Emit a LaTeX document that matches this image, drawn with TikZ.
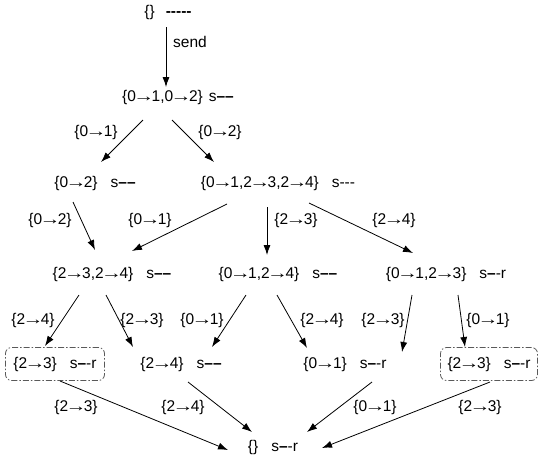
\documentclass[tikz,border=0pt]{standalone}
\usepackage{fontspec}
\setmainfont{Liberation Sans}
\usetikzlibrary{arrows.meta}
\newcommand\dd{\textbf{–}}
\newcommand\st[1]{\hspace{13pt}s#1}
\newcommand\ra{\kern-2.6pt\scalebox{1.35}[1]{→}\kern-2.6pt}
\begin{document}
\begin{tikzpicture}[x=1pt,y=-1pt,
  every node/.style={font=\fontsize{15.5}{18}\selectfont, inner sep=0pt},
  state/.style={},
  lbl/.style={},
  boxed/.style={draw=black!65, line width=0.8pt, rounded corners=6pt,
    dash pattern=on 6pt off 2pt on 1.5pt off 2pt, minimum height=33pt, inner xsep=6pt},
  arr/.style={-{Latex[length=10pt,width=7pt]}, line width=0.8pt}]
\useasboundingbox (0,0) rectangle (540,464);
% states
\node[state] (n0) at (168,12) {\{\}\hspace{11pt}\textbf{-{}-{}-{}-{}-}};
\node[state] (n1) at (178,97) {\{0\ra1,0\ra2\}\hspace{-7pt}\st{\dd\dd}};
\node[state] (n2) at (95,183) {\{0\ra2\}\st{\dd\dd}};
\node[state] (n3) at (278,183) {\{0\ra1,2\ra3,2\ra4\}\st{-{}-{}-}};
\node[state] (n6) at (112,274) {\{2\ra3,2\ra4\}\st{\dd\dd}};
\node[state] (n7) at (278,274) {\{0\ra1,2\ra4\}\st{\dd\dd}};
\node[state] (n8) at (446,274) {\{0\ra1,2\ra3\}\st{\dd-r}};
\node[state,boxed,minimum width=99pt] (n9) at (55,364) {\{2\ra3\}\st{\dd-r}};
\node[state] (n10) at (181,364) {\{2\ra4\}\st{\dd\dd}};
\node[state] (n12) at (345,364) {\{0\ra1\}\st{\dd-r}};
\node[state,boxed,minimum width=97pt] (n14) at (489,364) {\{2\ra3\}\st{\dd-r}};
\node[state] (n15) at (273,447) {\{\}\st{\dd-r}};
% connectors
\draw[arr] ([shift={(-2,15)}]n0.center) -- ([shift={(-12,-10)}]n1.center);
\draw[arr] ([shift={(-35,23)}]n1.center) -- ([shift={(6,-21)}]n2.center);
\draw[arr] ([shift={(-6,23)}]n1.center) -- ([shift={(-64,-21)}]n3.center);
\draw[arr] ([shift={(-22,19)}]n2.center) -- ([shift={(-17,-24)}]n6.center);
\draw[arr] ([shift={(-51,21)}]n3.center) -- ([shift={(20,-23)}]n6.center);
\draw[arr] ([shift={(-11,24)}]n3.center) -- ([shift={(-11,-19)}]n7.center);
\draw[arr] ([shift={(31,20)}]n3.center) -- ([shift={(-33,-21)}]n8.center);
\draw[arr] ([shift={(-33,21)}]n6.center) -- ([shift={(-10,-18)}]n9.center);
\draw[arr] ([shift={(-6,21)}]n6.center) -- ([shift={(-48,-17)}]n10.center);
\draw[arr] ([shift={(-32,21)}]n7.center) -- ([shift={(31,-17)}]n10.center);
\draw[arr] ([shift={(-1,21)}]n7.center) -- ([shift={(-38,-16)}]n12.center);
\draw[arr] ([shift={(-34,21)}]n8.center) -- ([shift={(57,-12)}]n12.center);
\draw[arr] ([shift={(12,21)}]n8.center) -- ([shift={(-24,-17)}]n14.center);
\draw[arr] ([shift={(5,17)}]n9.center) -- ([shift={(-45,3)}]n15.center);
\draw[arr] ([shift={(7,18)}]n10.center) -- ([shift={(-21,-15)}]n15.center);
\draw[arr] ([shift={(27,18)}]n12.center) -- ([shift={(34,-15)}]n15.center);
\draw[arr] ([shift={(1,18)}]n14.center) -- ([shift={(49,1)}]n15.center);
% labels
\node[lbl] (l0) at (190,42) {send};
\node[lbl] (l1) at (96,132) {\{0\ra1\}};
\node[lbl] (l2) at (220,132) {\{0\ra2\}};
\node[lbl] (l3) at (50,220) {\{0\ra2\}};
\node[lbl] (l4) at (150,220) {\{0\ra1\}};
\node[lbl] (l5) at (296,220) {\{2\ra3\}};
\node[lbl] (l6) at (394,220) {\{2\ra4\}};
\node[lbl] (l7) at (33,320) {\{2\ra4\}};
\node[lbl] (l8) at (142,320) {\{2\ra3\}};
\node[lbl] (l9) at (202,320) {\{0\ra1\}};
\node[lbl] (l10) at (322,320) {\{2\ra4\}};
\node[lbl] (l11) at (383,320) {\{2\ra3\}};
\node[lbl] (l12) at (488,320) {\{0\ra1\}};
\node[lbl] (l13) at (76,407) {\{2\ra3\}};
\node[lbl] (l14) at (183,407) {\{2\ra4\}};
\node[lbl] (l15) at (375,407) {\{0\ra1\}};
\node[lbl] (l16) at (480,407) {\{2\ra3\}};
\end{tikzpicture}
\end{document}
